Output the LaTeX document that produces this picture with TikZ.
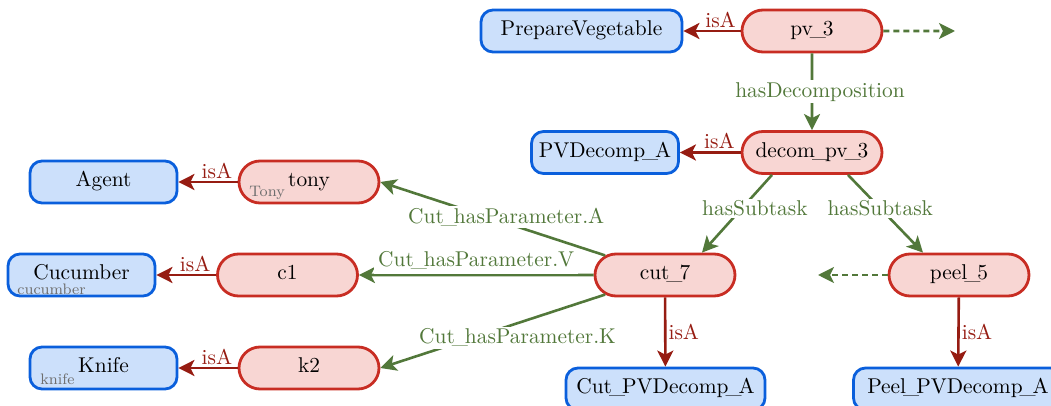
\documentclass[tikz,border=0pt]{standalone}
\usetikzlibrary{arrows.meta,shapes.misc}
\definecolor{bfill}{RGB}{204,224,251}
\definecolor{bdraw}{RGB}{10,95,220}
\definecolor{rfill}{RGB}{248,214,211}
\definecolor{rdraw}{RGB}{200,45,35}
\definecolor{gline}{RGB}{82,120,58}
\definecolor{dred}{RGB}{150,28,18}
\definecolor{gtext}{RGB}{110,110,110}
\newcommand\us{\kern-1.5pt\_\kern-1.5pt}
\begin{document}
\begin{tikzpicture}[x=0.5pt,y=-0.5pt,
  every node/.style={font=\fontsize{10.7}{12}\selectfont},
  cls/.style={draw=bdraw,fill=bfill,line width=1.4pt,rounded corners=6pt,minimum height=21pt,inner xsep=2pt,inner ysep=0pt,text height=7pt,text depth=2pt},
  inst/.style={rounded rectangle,draw=rdraw,fill=rfill,line width=1.4pt,minimum height=21pt,minimum width=74pt,inner xsep=2pt,inner ysep=0pt,text height=7pt,text depth=2pt},
  isa/.style={draw=dred,line width=1.3pt,-{Stealth[length=8pt,width=8pt,inset=2pt]}},
  isalab/.style={text=dred,inner sep=1pt},
  rel/.style={draw=gline,line width=1.3pt,-{Stealth[length=8pt,width=8pt,inset=2pt]}},
  rellab/.style={text=gline,fill=white,inner sep=1pt},
  dashrel/.style={rel,dash pattern=on 3pt off 2pt},
  tinylab/.style={font=\fontsize{7.6}{9}\selectfont,text=gtext,anchor=base west,inner sep=0pt}]
\clip (0,0) rectangle (1051,406);

% class nodes
\node[cls,minimum width=100.5pt] (prep) at (581.5,31) {PrepareVegetable};
\node[cls,minimum width=73.5pt] (pvd) at (605,152.5) {PVDecomp\us A};
\node[cls,minimum width=73.5pt] (agent) at (103.5,182) {Agent};
\node[cls,minimum width=73.5pt] (cuc) at (81.5,275) {Cucumber};
\node[cls,minimum width=73.5pt] (knife) at (103.5,368) {Knife};
\node[cls,minimum width=99.5pt] (cutpv) at (665.5,389) {Cut\us PVDecomp\us A};
\node[cls,minimum width=104.5pt] (peelpv) at (958,389) {Peel\us PVDecomp\us A};

% instance nodes
\node[inst] (pv) at (812,31) {pv\us 3};
\node[inst] (decom) at (812,152.5) {decom\us pv\us 3};
\node[inst] (tony) at (309,182) {tony};
\node[inst] (c1) at (287.5,275) {c1};
\node[inst] (k2) at (309,368) {k2};
\node[inst] (cut) at (665,275) {cut\us 7};
\node[inst] (peel) at (959,275) {peel\us 5};

% small labels
\node[tinylab] (tonylab) at ([xshift=-30pt,yshift=-7.5pt]tony.center) {Tony};
\node[tinylab] (cuclab) at ([xshift=-32.25pt,yshift=-9.6pt]cuc.center) {cucumber};
\node[tinylab] (knifelab) at ([xshift=-31.75pt,yshift=-8.5pt]knife.center) {knife};

\coordinate (pvout) at (955,31);
\coordinate (peelout) at (818,275);

% isA edges
\draw[isa] (pv) -- node[isalab,pos=0.35,above] {isA} (prep);
\draw[isa] (decom) -- node[isalab,pos=0.35,above] {isA} (pvd);
\draw[isa] (tony) -- node[isalab,pos=0.35,above] {isA} (agent);
\draw[isa] (c1) -- node[isalab,pos=0.35,above] {isA} (cuc);
\draw[isa] (k2) -- node[isalab,pos=0.35,above] {isA} (knife);
\draw[isa] (cut) -- node[isalab,pos=0.5,right] {isA} (cutpv);
\draw[isa] (peel) -- node[isalab,pos=0.5,right] {isA} (peelpv);

% relation edges
\draw[rel] (pv) -- node[rellab,pos=0.5,xshift=4pt] {hasDecomposition} (decom);
\draw[rel] ([xshift=-20pt]decom.south) -- node[rellab,pos=0.43,xshift=6.5pt] {hasSubtask} ([xshift=18.5pt]cut.north);
\draw[rel] ([xshift=18pt]decom.south) -- node[rellab,pos=0.43] {hasSubtask} ([xshift=-18pt]peel.north);
\draw[rel] (cut) -- node[rellab,pos=0.52,xshift=9pt] {Cut\us hasParameter.A} (tony.east);
\draw[rel] (cut) -- node[rellab,pos=0.5,above,inner sep=2pt] {Cut\us hasParameter.V} (c1);
\draw[rel] (cut) -- node[rellab,pos=0.59,xshift=22.5pt] {Cut\us hasParameter.K} (k2.east);
\draw[dashrel] (pv) -- (pvout);
\draw[dashrel] (peel) -- (peelout);
\end{tikzpicture}
\end{document}
